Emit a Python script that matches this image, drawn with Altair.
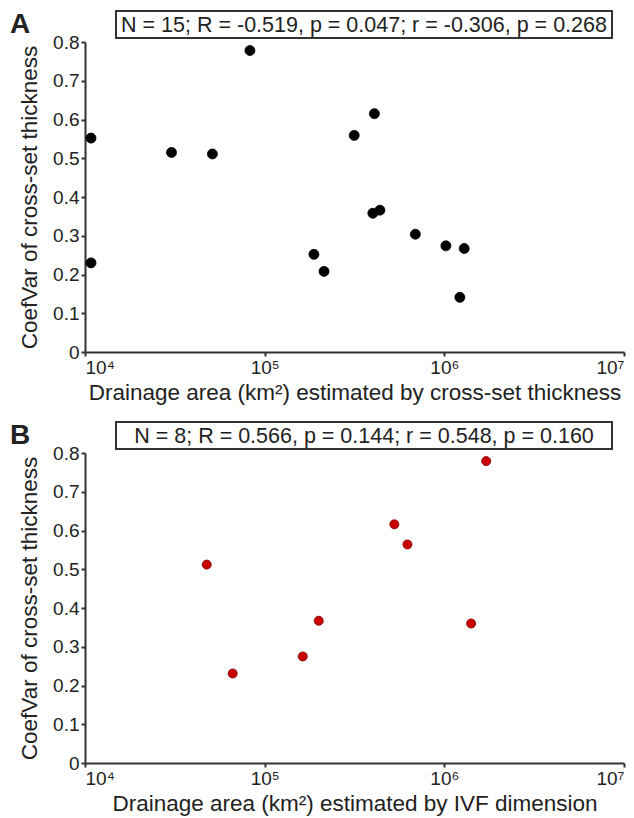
import altair as alt
import pandas as pd

# Panel A: drainage area estimated by cross-set thickness
a_area = [1.08e4, 1.08e4, 3.03e4, 5.12e4, 8.28e4, 1.88e5, 2.14e5, 3.15e5,
          4.00e5, 4.08e5, 4.38e5, 6.90e5, 1.02e6, 1.22e6, 1.29e6]
a_cv = [0.552, 0.230, 0.515, 0.511, 0.778, 0.252, 0.208, 0.559,
        0.358, 0.615, 0.366, 0.304, 0.274, 0.141, 0.267]
a_stats = "N = 15; R = -0.519, p = 0.047; r = -0.306, p = 0.268"
a_xtitle = "Drainage area (km\u00b2) estimated by cross-set thickness"

# Panel B: drainage area estimated by IVF dimension
b_area = [4.76e4, 6.64e4, 1.63e5, 2.00e5, 5.27e5, 6.23e5, 1.41e6, 1.71e6]
b_cv = [0.512, 0.231, 0.275, 0.367, 0.616, 0.564, 0.360, 0.779]
b_stats = "N = 8; R = 0.566, p = 0.144; r = 0.548, p = 0.160"
b_xtitle = "Drainage area (km\u00b2) estimated by IVF dimension"

y_title = "CoefVar of cross-set thickness"
x_ticks = [1e4, 1e5, 1e6, 1e7]
y_ticks = [0, 0.1, 0.2, 0.3, 0.4, 0.5, 0.6, 0.7, 0.8]

FONT = "Liberation Sans"
W, H = 539, 310

x_label_expr = ("'10' + (datum.value < 5e4 ? '\u2074' : datum.value < 5e5 ? '\u2075' : "
                "datum.value < 5e6 ? '\u2076' : '\u2077')")
y_label_expr = "datum.value == 0 ? '0' : format(datum.value, '.1f')"


def panel(area, cv, letter, stats, xtitle, fill, stroke, size):
    df = pd.DataFrame({"area": area, "cv": cv})
    x = alt.X("area:Q",
              scale=alt.Scale(type="log", domain=[1e4, 1e7]),
              axis=alt.Axis(values=x_ticks, labelExpr=x_label_expr, title=xtitle,
                            grid=False, titlePadding=4, labelPadding=2))
    y = alt.Y("cv:Q",
              scale=alt.Scale(domain=[0, 0.8]),
              axis=alt.Axis(values=y_ticks, labelExpr=y_label_expr, title=y_title,
                            grid=False, titlePadding=11))
    pts = alt.Chart(df).mark_circle(size=size, fill=fill, stroke=stroke, strokeWidth=0.8,
                                    opacity=1).encode(x=x, y=y)
    info = pd.DataFrame({"t": [stats], "l": [letter]})
    box = alt.Chart(info).mark_rect(fill="white", stroke="#333333", strokeWidth=2).encode(
        x=alt.value(31), x2=alt.value(527), y=alt.value(-31), y2=alt.value(-4))
    txt = alt.Chart(info).mark_text(font=FONT, fontSize=21.5, color="#222222",
                                    align="center", baseline="middle").encode(
        x=alt.value(279), y=alt.value(-16.5), text="t:N")
    let = alt.Chart(info).mark_text(font=FONT, fontSize=28, fontWeight="bold", color="#222222",
                                    align="left", baseline="alphabetic").encode(
        x=alt.value(-75), y=alt.value(-9), text="l:N")
    return alt.layer(pts, box, txt, let).properties(width=W, height=H)


chart_a = panel(a_area, a_cv, "A", a_stats, a_xtitle, "#000000", "#000000", 100)
chart_b = panel(b_area, b_cv, "B", b_stats, b_xtitle, "#c80000", "#7a0000", 82)

chart = alt.vconcat(chart_a, chart_b, spacing=17).properties(
    padding={"left": 10, "top": 10, "right": 5, "bottom": 5}
).configure_view(strokeWidth=0).configure_axis(
    labelFont=FONT, titleFont=FONT, labelFontSize=19, titleFontSize=22.5,
    titleFontWeight="normal", labelColor="#222222", titleColor="#222222",
    domainColor="#333333", domainWidth=2, tickColor="#333333", tickWidth=2,
    tickSize=4
)

chart.save("out.html", embed_options={"renderer": "svg", "actions": False})
